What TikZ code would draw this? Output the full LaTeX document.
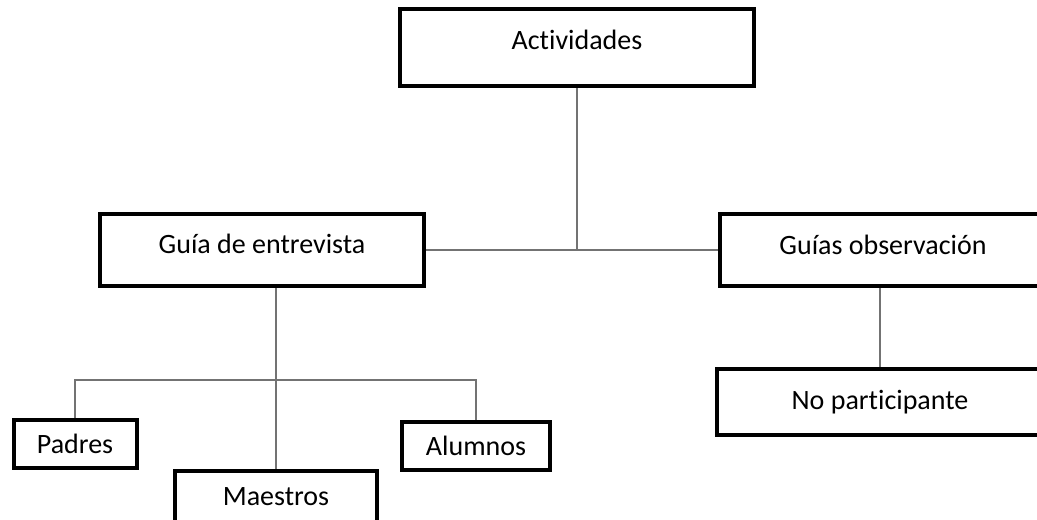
\documentclass[tikz,border=0pt]{standalone}
\usepackage{fontspec}
\setmainfont{Carlito}[Ligatures=NoCommon]
\begin{document}
\begin{tikzpicture}[
		x=0.75pt, y=-0.75pt,
		every node/.style={draw, rectangle, line width=3pt, inner sep=0pt, font=\fontsize{21}{25}\selectfont},
		link/.style={draw=black!55, line width=0.8pt},
	]
	\path[use as bounding box, clip] (0,0) rectangle (1037,520);

	\node[minimum width=265.5pt, minimum height=57.75pt, text depth=12pt] (actividades) at (577, 48)  {Actividades};
	\node[minimum width=243pt,   minimum height=54pt, text depth=9pt]     (entrevista)  at (262, 250) {Guía de entrevista};
	\node[minimum width=244.5pt, minimum height=54pt, text depth=8pt]     (observacion) at (883, 250) {Guías observación};
	\node[minimum width=244.5pt, minimum height=49.5pt]  (noparti)     at (880, 402) {No participante};
	\node[minimum width=92.25pt, minimum height=36pt]    (padres)      at (75, 444)  {Padres};
	\node[minimum width=151.5pt, minimum height=39pt]    (maestros)    at (276, 497) {Maestros};
	\node[minimum width=111pt,   minimum height=36pt]    (alumnos)     at (476, 446) {Alumnos};

	\coordinate (split) at (276, 380);

	\draw[link] (entrevista)  -- (observacion);
	\draw[link] (actividades) -- (actividades |- entrevista);
	\draw[link] (maestros)    -- (maestros |- entrevista.south);
	\draw[link] (padres)      |- (split) -| (alumnos);
	\draw[link] (noparti)     -- (noparti |- observacion.south);
\end{tikzpicture}
\end{document}
